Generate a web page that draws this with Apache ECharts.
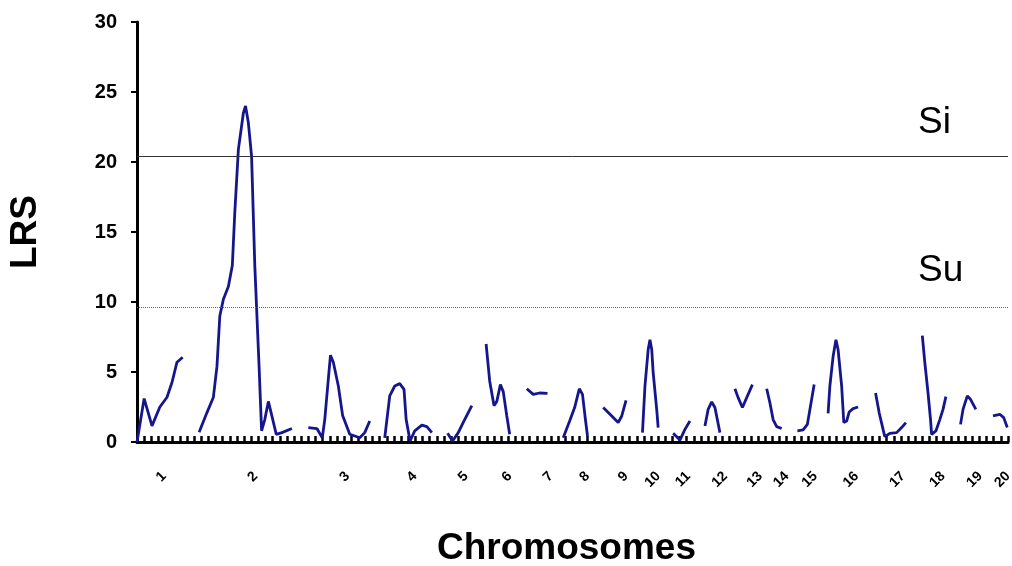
<!DOCTYPE html>
<html>
<head>
<meta charset="utf-8">
<script src="https://cdn.jsdelivr.net/npm/echarts@6/dist/echarts.min.js"></script>
<style>
  html, body { margin: 0; padding: 0; background: #fff; }
  #chart { width: 1012px; height: 566px; }
</style>
</head>
<body>
<div id="chart"></div>
<script>
// marker position along the genome (tick units) and LRS value, one array per chromosome
var chr1 = [[0,0],[1.0,3.1],[2.1,1.15],[3.2,2.5],[4.2,3.2],[4.9,4.25],[5.6,5.7],[6.4,6.05]];
var chr2 = [[8.7,0.7],[9.8,2.1],[10.7,3.2],[11.2,5.4],[11.6,9.0],[12.1,10.2],[12.8,11.1],[13.35,12.6],[13.7,16.4],[14.2,20.9],[14.9,23.5],[15.2,24.0],[15.6,22.8],[16.05,20.4],[16.5,12.6],[17.1,5.4],[17.45,0.8],[17.9,1.6],[18.4,2.9],[18.9,1.85],[19.5,0.55],[20.3,0.67],[21.7,0.96]];
var chr3 = [[24.0,1.03],[25.2,0.96],[25.95,0.3],[26.3,1.6],[26.8,4.5],[27.1,6.2],[27.5,5.7],[28.2,4.0],[28.8,1.9],[29.8,0.55],[31.2,0.3],[31.9,0.67],[32.6,1.5]];
var chr4 = [[34.7,0.3],[35.4,3.3],[36.1,4.0],[36.8,4.17],[37.4,3.76],[37.7,1.6],[38.25,0.07],[38.9,0.8],[39.9,1.2],[40.6,1.1],[41.3,0.67]];
var chr5 = [[43.5,0.62],[44.2,0.07],[45.0,0.67],[45.7,1.4],[46.9,2.6]];
var chr6 = [[48.9,7.0],[49.4,4.36],[50.0,2.6],[50.4,2.9],[50.9,4.1],[51.3,3.6],[51.8,1.86],[52.2,0.55]];
var chr7 = [[54.6,3.8],[55.5,3.4],[56.4,3.5],[57.5,3.48]];
var chr8 = [[59.7,0.3],[60.6,1.5],[61.3,2.46],[61.95,3.8],[62.4,3.4],[62.75,1.86],[63.1,0.43]];
var chr9 = [[65.3,2.46],[66.5,1.86],[67.4,1.39],[67.9,1.86],[68.5,2.98]];
var chr10 = [[70.8,0.67],[71.15,4.0],[71.6,6.6],[71.85,7.3],[72.1,6.6],[72.3,4.96],[72.8,2.3],[73.0,1.03]];
var chr11 = [[75.1,0.62],[76.05,0.14],[76.75,0.9],[77.45,1.5]];
var chr12 = [[79.55,1.14],[80.0,2.33],[80.5,2.86],[80.95,2.46],[81.65,0.67]];
var chr13 = [[83.75,3.8],[84.2,3.17],[84.8,2.46],[85.4,3.17],[86.2,4.1]];
var chr14 = [[88.2,3.8],[88.65,2.8],[89.1,1.6],[89.6,1.1],[90.3,0.96]];
var chr15 = [[92.5,0.8],[93.3,0.86],[93.9,1.26],[94.35,2.6],[94.85,4.1]];
var chr16 = [[96.8,2.05],[97.05,4.0],[97.5,6.1],[97.9,7.3],[98.2,6.6],[98.7,4.0],[99.0,1.39],[99.4,1.5],[99.75,2.14],[100.3,2.38],[101.0,2.5]];
var chr17 = [[103.45,3.5],[103.95,2.1],[104.5,0.9],[104.75,0.38],[105.45,0.62],[106.4,0.67],[107.1,1.03],[107.7,1.39]];
var chr18 = [[110.0,7.6],[110.35,5.67],[110.8,3.5],[111.15,1.6],[111.3,0.55],[111.9,0.79],[112.45,1.6],[112.9,2.33],[113.3,3.24]];
var chr19 = [[115.35,1.26],[115.7,2.33],[116.3,3.29],[116.75,3.05],[117.5,2.33]];
var chr20 = [[119.9,1.86],[120.85,1.98],[121.4,1.74],[121.9,1.03]];

var chromosomes = [chr1, chr2, chr3, chr4, chr5, chr6, chr7, chr8, chr9, chr10,
                   chr11, chr12, chr13, chr14, chr15, chr16, chr17, chr18, chr19, chr20];

var chromLabels = ['1','2','3','4','5','6','7','8','9','10','11','12','13','14','15','16','17','18','19','20'];
var chromLabelPos = [3.8, 16.6, 29.5, 38.9, 46.1, 52.2, 58.0, 63.1, 68.5, 73.0, 77.2, 82.4, 87.3, 91.0, 95.0, 100.8, 107.3, 112.9, 118.1, 122];

var yTicks = [0, 5, 10, 15, 20, 25, 30];
var siLevel = 20.4;   // significant threshold
var suLevel = 9.6;    // suggestive threshold

var chart = echarts.init(document.getElementById('chart'));

var series = chromosomes.map(function (pts, i) {
  return {
    type: 'line',
    data: pts,
    showSymbol: false,
    symbol: 'none',
    lineStyle: { color: '#16168c', width: 2.8 },
    z: 3,
    animation: false
  };
});

series[0].markLine = {
  silent: true,
  symbol: 'none',
  animation: false,
  label: { show: false },
  data: [
    { yAxis: siLevel, lineStyle: { color: '#333', width: 1, type: 'solid' } },
    { yAxis: suLevel, lineStyle: { color: '#666', width: 1, type: [1, 1] } }
  ]
};

var option = {
  animation: false,
  grid: { left: 137, top: 22, width: 871, height: 420, outerBoundsMode: 'none', containLabel: false },
  xAxis: [
    {
      type: 'value',
      min: 0,
      max: 122,
      interval: 1,
      axisLine: { lineStyle: { color: '#000', width: 3 } },
      axisTick: { show: true, inside: true, length: 6, lineStyle: { color: '#000', width: 2.5 } },
      axisLabel: { show: false },
      splitLine: { show: false }
    },
    {
      type: 'value',
      min: 0,
      max: 122,
      position: 'bottom',
      axisLine: { show: false },
      axisTick: { show: false },
      splitLine: { show: false },
      axisLabel: {
        show: true,
        customValues: chromLabelPos,
        rotate: 45,
        margin: 32,
        fontFamily: 'Arial, "Liberation Sans", sans-serif',
        fontSize: 14,
        fontWeight: 'bold',
        color: '#000',
        hideOverlap: false,
        formatter: function (v) {
          var idx = chromLabelPos.indexOf(v);
          return idx >= 0 ? chromLabels[idx] : '';
        }
      },
      name: 'Chromosomes',
      nameLocation: 'middle',
      nameGap: 88,
      nameTextStyle: {
        fontFamily: 'Arial, "Liberation Sans", sans-serif',
        fontSize: 37,
        fontWeight: 'bold',
        color: '#000',
        padding: [0, 12, 0, 0]
      }
    }
  ],
  yAxis: {
    type: 'value',
    min: yTicks[0],
    max: yTicks[yTicks.length - 1],
    interval: 5,
    axisLine: { show: true, lineStyle: { color: '#000', width: 3 } },
    axisTick: { show: true, length: 6, lineStyle: { color: '#000', width: 2 } },
    axisLabel: {
      margin: 20,
      fontFamily: 'Arial, "Liberation Sans", sans-serif',
      fontSize: 20,
      fontWeight: 'bold',
      color: '#000'
    },
    splitLine: { show: false },
    name: 'LRS',
    nameLocation: 'middle',
    nameGap: 93,
    nameRotate: 90,
    nameTextStyle: {
      fontFamily: 'Arial, "Liberation Sans", sans-serif',
      fontSize: 37,
      fontWeight: 'bold',
      color: '#000'
    }
  },
  graphic: [
    { type: 'text', left: 918, top: 104, style: { text: 'Si', font: '37px Arial, "Liberation Sans", sans-serif', fill: '#000' } },
    { type: 'text', left: 918, top: 252, style: { text: 'Su', font: '37px Arial, "Liberation Sans", sans-serif', fill: '#000' } }
  ],
  series: series
};

chart.setOption(option);
</script>
</body>
</html>
